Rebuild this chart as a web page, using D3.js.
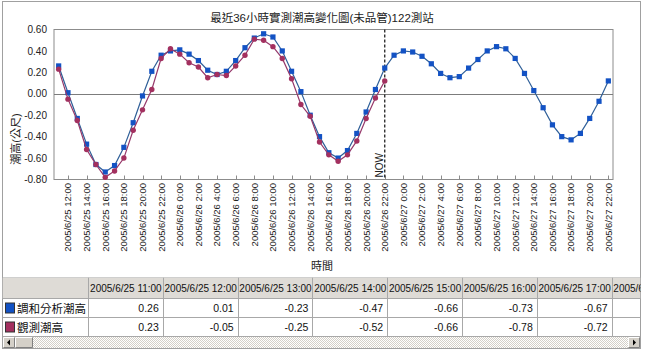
<!DOCTYPE html>
<html>
<head>
<meta charset="utf-8">
<script src="https://cdn.jsdelivr.net/npm/d3@7/dist/d3.min.js"></script>
<style>
  body { margin: 0; background: #fff; }
  svg { display: block; font-family: "Liberation Sans", Arial, "Noto Sans CJK TC", sans-serif; }
</style>
</head>
<body>
<div id="chart"></div>
<script>
// Hourly categories, 2005/6/25 11:00 .. 2005/6/27 22:00
const categories = [
  "2005/6/25 11:00","2005/6/25 12:00","2005/6/25 13:00","2005/6/25 14:00","2005/6/25 15:00","2005/6/25 16:00",
  "2005/6/25 17:00","2005/6/25 18:00","2005/6/25 19:00","2005/6/25 20:00","2005/6/25 21:00","2005/6/25 22:00",
  "2005/6/25 23:00","2005/6/26 0:00","2005/6/26 1:00","2005/6/26 2:00","2005/6/26 3:00","2005/6/26 4:00",
  "2005/6/26 5:00","2005/6/26 6:00","2005/6/26 7:00","2005/6/26 8:00","2005/6/26 9:00","2005/6/26 10:00",
  "2005/6/26 11:00","2005/6/26 12:00","2005/6/26 13:00","2005/6/26 14:00","2005/6/26 15:00","2005/6/26 16:00",
  "2005/6/26 17:00","2005/6/26 18:00","2005/6/26 19:00","2005/6/26 20:00","2005/6/26 21:00","2005/6/26 22:00",
  "2005/6/26 23:00","2005/6/27 0:00","2005/6/27 1:00","2005/6/27 2:00","2005/6/27 3:00","2005/6/27 4:00",
  "2005/6/27 5:00","2005/6/27 6:00","2005/6/27 7:00","2005/6/27 8:00","2005/6/27 9:00","2005/6/27 10:00",
  "2005/6/27 11:00","2005/6/27 12:00","2005/6/27 13:00","2005/6/27 14:00","2005/6/27 15:00","2005/6/27 16:00",
  "2005/6/27 17:00","2005/6/27 18:00","2005/6/27 19:00","2005/6/27 20:00","2005/6/27 21:00","2005/6/27 22:00"
];

// 調和分析潮高 (harmonic prediction), whole range
const harmonic = [
  0.26, 0.01, -0.23, -0.47, -0.66, -0.73, -0.67, -0.50, -0.27, -0.02, 0.21, 0.36,
  0.40, 0.41, 0.37, 0.31, 0.22, 0.18, 0.21, 0.31, 0.43, 0.52, 0.56, 0.53,
  0.40, 0.21, 0.02, -0.20, -0.40, -0.55, -0.60, -0.53, -0.37, -0.17, 0.04, 0.24,
  0.36, 0.40, 0.39, 0.35, 0.28, 0.19, 0.15, 0.16, 0.24, 0.32, 0.40, 0.44,
  0.42, 0.33, 0.19, 0.03, -0.13, -0.29, -0.40, -0.43, -0.37, -0.23, -0.07, 0.12
];

// 觀測潮高 (observed), up to NOW
const observed = [
  0.23, -0.05, -0.25, -0.52, -0.66, -0.78, -0.72, -0.60, -0.34, -0.15, 0.04, 0.33,
  0.42, 0.37, 0.29, 0.25, 0.15, 0.18, 0.17, 0.26, 0.36, 0.51, 0.50, 0.44,
  0.33, 0.14, -0.10, -0.21, -0.45, -0.57, -0.63, -0.57, -0.44, -0.23, -0.04, 0.12
];

const seriesNames = ["調和分析潮高", "觀測潮高"];
const yTicks = [0.6, 0.4, 0.2, 0, -0.2, -0.4, -0.6, -0.8];
const nowLabel = "2005/6/26 22:00";

const width = 645, height = 351;
const plot = { left: 54, right: 613, top: 29.5, bottom: 179.5 };
const blueLine = "#2f5f98", blueMark = "#1352c4";
const redLine = "#95386a", redMark = "#a3305f";

const svg = d3.select("#chart").append("svg")
  .attr("width", width)
  .attr("height", height);

// outer frame
svg.append("rect")
  .attr("x", 2.5).attr("y", 1.5).attr("width", 638).attr("height", 347)
  .attr("fill", "#fff").attr("stroke", "#a0a0a0");

const x = d3.scaleBand().domain(d3.range(categories.length)).range([plot.left, plot.right]);
const cx = i => x(i) + x.bandwidth() / 2;
const y = d3.scaleLinear().domain([-0.8, 0.6]).range([plot.bottom, plot.top]);

// title
svg.append("text")
  .attr("x", 322).attr("y", 21.5)
  .attr("text-anchor", "middle")
  .style("font-size", "11.5px").style("fill", "#222")
  .text("最近36小時實測潮高變化圖(未品管)122測站");

// plot frame + zero line
svg.append("rect")
  .attr("x", plot.left).attr("y", plot.top)
  .attr("width", plot.right - plot.left).attr("height", plot.bottom - plot.top)
  .attr("fill", "none").attr("stroke", "#8c8c8c");
svg.append("line")
  .attr("x1", plot.left).attr("x2", plot.right)
  .attr("y1", Math.round(y(0)) + 0.5).attr("y2", Math.round(y(0)) + 0.5)
  .attr("stroke", "#7c7c7c");

// y tick labels
svg.selectAll(".ylab")
  .data(yTicks)
  .enter().append("text")
  .attr("x", 47)
  .attr("y", d => y(d) + 3.6)
  .attr("text-anchor", "end")
  .style("font-size", "10px").style("fill", "#222")
  .text(d => d.toFixed(2));

// y title
svg.append("text")
  .attr("transform", "translate(19.5,139) rotate(-90)")
  .attr("text-anchor", "middle")
  .style("font-size", "11px").style("fill", "#222")
  .text("潮高(公尺)");

// x ticks + labels (every 2 hours)
const labelled = d3.range(categories.length).filter(i => i % 2 === 1);
svg.selectAll(".xtick")
  .data(labelled)
  .enter().append("line")
  .attr("x1", i => Math.round(cx(i)) + 0.5).attr("x2", i => Math.round(cx(i)) + 0.5)
  .attr("y1", plot.bottom - 4).attr("y2", plot.bottom)
  .attr("stroke", "#8c8c8c");
svg.selectAll(".xlab")
  .data(labelled)
  .enter().append("text")
  .attr("transform", i => `translate(${cx(i) + 3.4},183) rotate(-90)`)
  .attr("text-anchor", "end")
  .style("font-size", "9.5px").style("fill", "#222")
  .text(i => categories[i]);

svg.append("text")
  .attr("x", 322).attr("y", 270)
  .attr("text-anchor", "middle")
  .style("font-size", "11px").style("fill", "#222")
  .text("時間");

// NOW marker
const nowIdx = categories.indexOf(nowLabel);
svg.append("line")
  .attr("x1", cx(nowIdx)).attr("x2", cx(nowIdx))
  .attr("y1", plot.top).attr("y2", plot.bottom)
  .attr("stroke", "#222").attr("stroke-width", 1.3)
  .attr("stroke-dasharray", "3,2");
svg.append("text")
  .attr("transform", `translate(${cx(nowIdx) - 1.5},177.5) rotate(-90)`)
  .style("font-size", "10px").style("fill", "#222")
  .text("NOW");

// series
const line = d3.line().x((d, i) => cx(i)).y(d => y(d));

svg.append("path")
  .datum(harmonic)
  .attr("d", line)
  .attr("fill", "none").attr("stroke", blueLine).attr("stroke-width", 1.2);
svg.selectAll(".bm")
  .data(harmonic)
  .enter().append("rect")
  .attr("x", (d, i) => cx(i) - 2.6).attr("y", d => y(d) - 2.6)
  .attr("width", 5.2).attr("height", 5.2)
  .attr("fill", blueMark);

svg.append("path")
  .datum(observed)
  .attr("d", line)
  .attr("fill", "none").attr("stroke", redLine).attr("stroke-width", 1.2);
svg.selectAll(".rm")
  .data(observed)
  .enter().append("circle")
  .attr("cx", (d, i) => cx(i)).attr("cy", d => y(d))
  .attr("r", 2.7)
  .attr("fill", redMark);

// ---- data table below the chart ----
const tbl = { top: 277.5, headH: 21, rowH: 19, labelW: 85.5, colW: 74.8, left: 2.5, right: 640.5 };
const tg = svg.append("g");
svg.append("clipPath").attr("id", "tclip")
  .append("rect").attr("x", tbl.left).attr("y", tbl.top).attr("width", tbl.right - tbl.left).attr("height", 60);
const grid = tg.append("g").attr("clip-path", "url(#tclip)");

grid.append("rect")
  .attr("x", tbl.left).attr("y", tbl.top).attr("width", tbl.right - tbl.left).attr("height", tbl.headH)
  .attr("fill", "#dedbd6");

const nCols = 8;      // 8th column is only partly in view
const nValCols = 7;   // values visible in the reference
const colX = k => tbl.left + tbl.labelW + k * tbl.colW;
const rowsY = [tbl.top, tbl.top + tbl.headH, tbl.top + tbl.headH + tbl.rowH, tbl.top + tbl.headH + 2 * tbl.rowH];

// horizontal rules
grid.selectAll(".hr")
  .data(rowsY)
  .enter().append("line")
  .attr("x1", tbl.left).attr("x2", tbl.right)
  .attr("y1", d => d).attr("y2", d => d)
  .attr("stroke", "#a8a8a8");
// vertical rules
grid.selectAll(".vr")
  .data(d3.range(nCols + 1))
  .enter().append("line")
  .attr("x1", k => Math.round(colX(k)) + 0.5).attr("x2", k => Math.round(colX(k)) + 0.5)
  .attr("y1", tbl.top).attr("y2", rowsY[3])
  .attr("stroke", "#a8a8a8");

// header text
grid.selectAll(".hd")
  .data(d3.range(nCols))
  .enter().append("text")
  .attr("x", k => colX(k) + tbl.colW / 2 + 0.5)
  .attr("y", tbl.top + 14)
  .attr("text-anchor", "middle")
  .style("font-size", "10px").style("fill", "#111")
  .text(k => categories[k]);

// values
[harmonic, observed].forEach((vals, r) => {
  grid.selectAll(".v" + r)
    .data(d3.range(nValCols))
    .enter().append("text")
    .attr("x", k => colX(k + 1) - 4)
    .attr("y", rowsY[r + 1] + 13.5)
    .attr("text-anchor", "end")
    .style("font-size", "10.5px").style("fill", "#111")
    .text(k => vals[k].toFixed(2));
});

// row labels with legend keys
[blueMark, redMark].forEach((c, r) => {
  tg.append("rect")
    .attr("x", 5.5).attr("y", rowsY[r + 1] + 4.5).attr("width", 9).attr("height", 10)
    .attr("fill", c).attr("stroke", "#333");
  tg.append("text")
    .attr("x", 17).attr("y", rowsY[r + 1] + 14)
    .style("font-size", "11.5px").style("fill", "#111")
    .style("font-family", "'Noto Sans CJK TC', sans-serif")
    .text(seriesNames[r]);
});

// scrollbar
const defs = svg.append("defs");
const pat = defs.append("pattern").attr("id", "dither")
  .attr("width", 2).attr("height", 2).attr("patternUnits", "userSpaceOnUse");
pat.append("rect").attr("width", 2).attr("height", 2).attr("fill", "#ffffff");
pat.append("rect").attr("width", 1).attr("height", 1).attr("fill", "#d4d0c8");
pat.append("rect").attr("x", 1).attr("y", 1).attr("width", 1).attr("height", 1).attr("fill", "#d4d0c8");

const sbY = rowsY[3] + 0.5, sbH = 11;
tg.append("rect").attr("x", 3).attr("y", sbY).attr("width", 637).attr("height", sbH).attr("fill", "url(#dither)");
function button(bx, bw) {
  tg.append("rect").attr("x", bx).attr("y", sbY).attr("width", bw).attr("height", sbH)
    .attr("fill", "#d4d0c8");
  tg.append("path").attr("d", `M${bx + 0.5},${sbY + sbH - 0.5}V${sbY + 0.5}H${bx + bw - 0.5}`)
    .attr("fill", "none").attr("stroke", "#fff");
  tg.append("path").attr("d", `M${bx + 0.5},${sbY + sbH - 0.5}H${bx + bw - 0.5}V${sbY + 0.5}`)
    .attr("fill", "none").attr("stroke", "#808080");
}
button(3, 12);
button(15, 18);
button(628, 12);
tg.append("path").attr("d", `M7,${sbY + 5.5}L10,${sbY + 2.5}V${sbY + 8.5}Z`).attr("fill", "#000");
tg.append("path").attr("d", `M636,${sbY + 5.5}L633,${sbY + 2.5}V${sbY + 8.5}Z`).attr("fill", "#000");
</script>
</body>
</html>
